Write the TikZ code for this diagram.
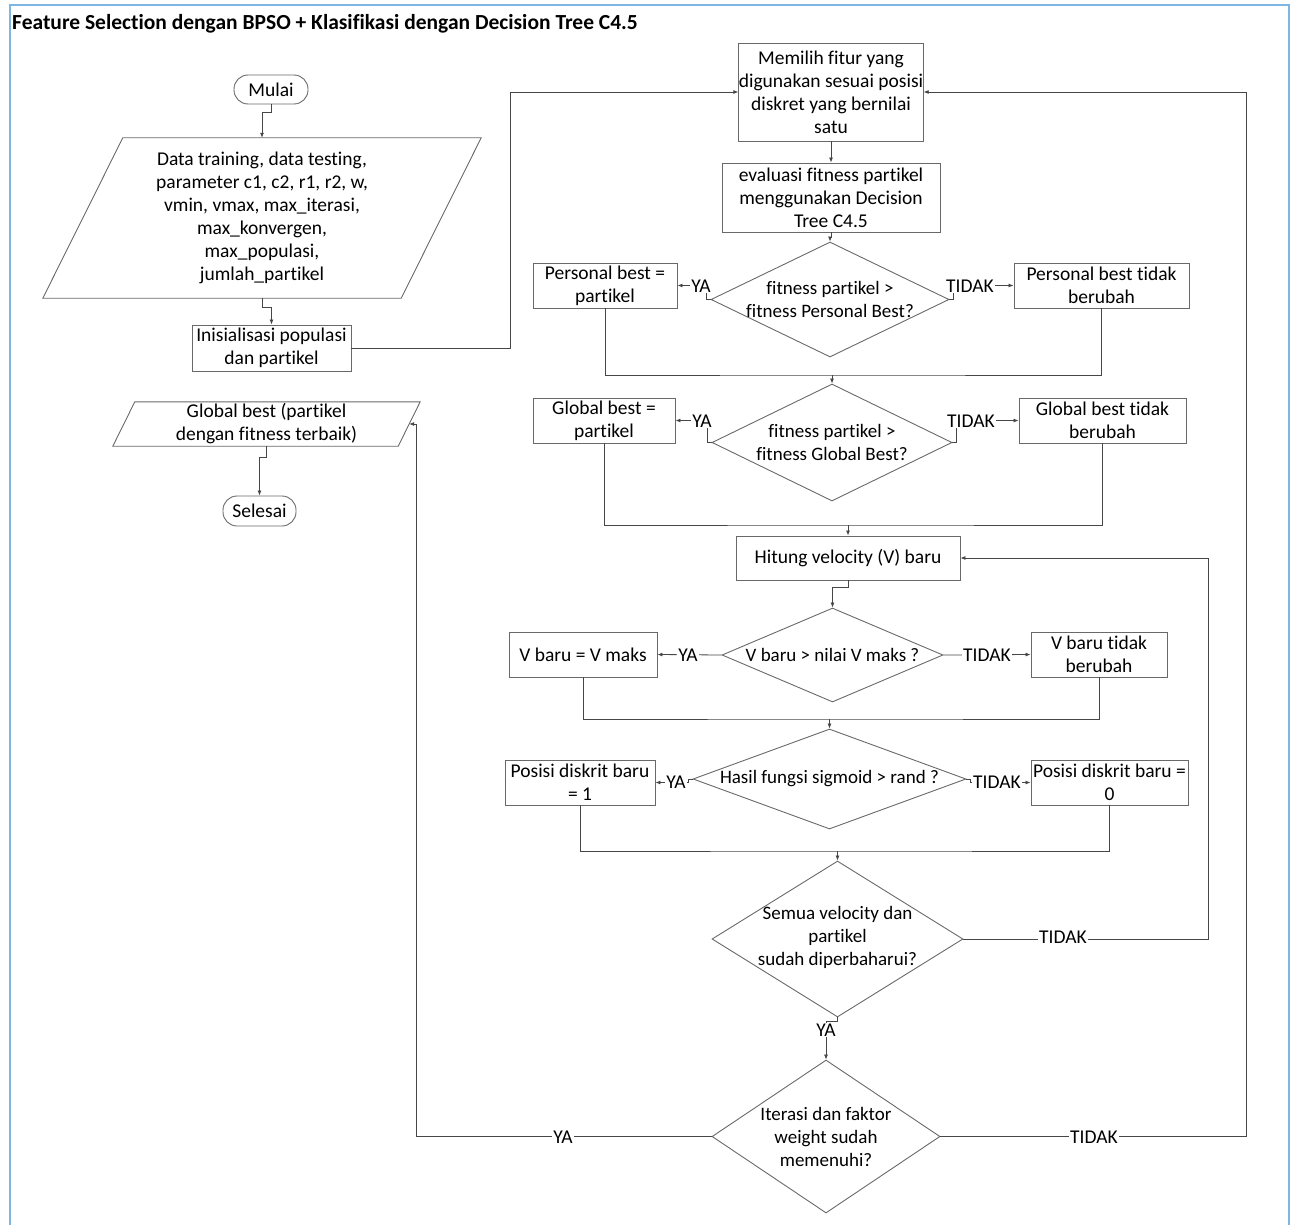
\documentclass[tikz,border=0pt]{standalone}
\usepackage{fontspec}
\setmainfont{Carlito}[Ligatures={NoCommon}]
\usetikzlibrary{arrows.meta,shapes.geometric,calc}
\definecolor{linec}{RGB}{70,70,70}
\definecolor{boxc}{RGB}{105,105,105}
\definecolor{framec}{RGB}{125,182,226}
\newcommand\bodyfont{\fontsize{19.5}{23}\selectfont}
\newcommand\diafont{\fontsize{19}{23}\selectfont}
\begin{document}
\begin{tikzpicture}[x=1pt,y=-1pt,
 every node/.style={font=\bodyfont},
 procbox/.style={draw=boxc, line width=0.9pt, fill=white, align=center, inner sep=0pt},
 term/.style={procbox, rounded corners=14pt},
 decis/.style={draw=boxc, line width=0.9pt, shape=diamond, inner sep=0pt},
 txt/.style={align=center, inner sep=0pt},
 dtxt/.style={txt, font=\diafont},
 lbl/.style={fill=white, inner sep=1pt},
 wire/.style={draw=linec, line width=0.8pt},
 conn/.style={wire, -{Latex[length=5pt,width=4pt]}},
 shapeline/.style={draw=boxc, line width=0.9pt},
]
\useasboundingbox (0,0) rectangle (1295,1225);
\draw[framec, line width=2pt] (10,1225) -- (10,5) -- (1289,5) -- (1289,1225);
\node[anchor=west, inner sep=0pt, font=\fontsize{21.5}{24}\selectfont\bfseries] (title) at (12,24) {Feature Selection dengan BPSO + Klasifikasi dengan Decision Tree C4.5};

% left column
\node[term, minimum width=74, minimum height=29] (mulai) at (271,89.5) {Mulai};
\node[txt, minimum width=438, minimum height=160] (data) at (262,218) {Data training, data testing,\\parameter c1, c2, r1, r2, w,\\vmin, vmax, max\_iterasi,\\max\_konvergen,\\max\_populasi,\\jumlah\_partikel};
\draw[shapeline] (data.south west) -- ($(data.north west)+(80,0)$) -- (data.north east) -- ($(data.south east)+(-80,0)$) -- cycle;
\node[procbox, minimum width=159, minimum height=46] (init) at (271.5,348) {Inisialisasi populasi\\dan partikel};
\node[txt, minimum width=307, minimum height=44] (gb) at (266.5,424) {Global best (partikel\\dengan fitness terbaik)};
\draw[shapeline] (gb.south west) -- ($(gb.north west)+(22,0)$) -- (gb.north east) -- ($(gb.south east)+(-22,0)$) -- cycle;
\node[term, minimum width=73, minimum height=30] (selesai) at (259.5,511) {Selesai};

% right column
\node[procbox, minimum width=184, minimum height=98] (memilih) at (831,92) {Memilih fitur yang\\digunakan sesuai posisi\\diskret yang bernilai\\satu};
\node[procbox, minimum width=218, minimum height=69] (eval) at (831,197.5) {evaluasi fitness partikel\\menggunakan Decision\\Tree C4.5};

\node[decis, minimum width=238, minimum height=115] (d1) at (830,299.5) {};
\node[dtxt] (d1t) at (d1) {fitness partikel >\\fitness Personal Best?};
\node[procbox, minimum width=144, minimum height=45] (pb) at (605,285.5) {Personal best =\\partikel};
\node[procbox, minimum width=175, minimum height=45] (pnb) at (1101.5,285.5) {Personal best tidak\\berubah};

\node[decis, minimum width=240, minimum height=117] (d2) at (832,442.5) {};
\node[dtxt] (d2t) at (d2) {fitness partikel >\\fitness Global Best?};
\node[procbox, minimum width=142, minimum height=45] (gbp) at (604,420.5) {Global best =\\partikel};
\node[procbox, minimum width=167, minimum height=45] (gbn) at (1102.5,420.5) {Global best tidak\\berubah};

\node[procbox, minimum width=224, minimum height=44] (hitung) at (848,558) {Hitung velocity (V) baru};

\node[decis, minimum width=221, minimum height=94] (d3) at (832.5,655) {};
\node[dtxt] (d3t) at (d3) {V baru > nilai V maks ?};
\node[procbox, minimum width=148, minimum height=45] (vm) at (583,654.5) {V baru = V maks};
\node[procbox, minimum width=136, minimum height=45] (vnb) at (1099,654.5) {V baru tidak\\berubah};

\node[decis, minimum width=273, minimum height=100] (d4) at (829.5,779) {};
\node[dtxt] (d4t) at (d4) {Hasil fungsi sigmoid > rand ?};
\node[procbox, minimum width=150, minimum height=45] (p1) at (580,782.5) {Posisi diskrit baru\\= 1};
\node[procbox, minimum width=157, minimum height=45] (p0) at (1109.5,782.5) {Posisi diskrit baru =\\0};

\node[decis, minimum width=251, minimum height=156] (d5) at (837.5,939) {};
\node[dtxt] (d5t) at (837.5,937) {Semua velocity dan\\partikel\\sudah diperbaharui?};

\node[decis, minimum width=228, minimum height=153] (d6) at (826,1136.5) {};
\node[dtxt] (d6t) at (d6) {Iterasi dan faktor\\weight sudah\\memenuhi?};

% merge points
\coordinate (m1) at (832,375);
\coordinate (m2) at (848,525);
\coordinate (m3) at (829.5,719);
\coordinate (m4) at (837.5,851);

% connectors, left column
\draw[conn] (mulai.south) -- ++(0,8) -| (data.north);
\draw[conn] (data.south) -- ++(0,9) -| (init.north);
\draw[conn] (gb.south) -- ++(0,11) -| (selesai.north);
\draw[conn] (init.east) -- ++(159,0) |- (memilih.west);

% right column
\draw[conn] (memilih.south) -- (eval.north);
\draw[conn] (eval.south) -- ++(0,5) -| (d1.north);
\draw[conn] (d1.west) -- ++(-4,0) |- (pb.east);
\draw[conn] (d1.east) -- ++(4,0) |- (pnb.west);
\draw[wire] (pb.south) |- (m1) -| (pnb.south);
\draw[conn] (m1) -- (d2.north);

\draw[conn] (d2.west) -- ++(-4,0) |- (gbp.east);
\draw[conn] (d2.east) -- ++(4,0) |- (gbn.west);
\draw[wire] (gbp.south) |- (m2) -| (gbn.south);
\draw[conn] (m2) -- (hitung.north);

\draw[conn] (hitung.south) -- ++(0,7) -| (d3.north);
\draw[conn] (d3.west) -- (vm.east);
\draw[conn] (d3.east) -- (vnb.west);
\draw[wire] (vm.south) |- (m3) -| (vnb.south);
\draw[conn] (m3) -- (d4.north);

\draw[conn] (d4.west) -- ++(-4,0) |- (p1.east);
\draw[conn] (d4.east) -- ++(4,0) |- (p0.west);
\draw[wire] (p1.south) |- (m4) -| (p0.south);
\draw[conn] (m4) -- (d5.north);

\draw[conn] (d5.east) -- ++(245,0) |- (hitung.east);
\draw[conn] (d5.south) -- ++(0,4) -| (d6.north);
\draw[conn] (d6.west) -- ++(-295,0) |- ($(gb.east)+(-11,0)$);
\draw[conn] (d6.east) -- ++(306,0) |- (memilih.east);

% labels
\node[lbl] (ya1) at (701,286) {YA};
\node[lbl] (ti1) at (970,286) {TIDAK};
\node[lbl] (ya2) at (702,421) {YA};
\node[lbl] (ti2) at (971,421) {TIDAK};
\node[lbl] (ya3) at (688,655) {YA};
\node[lbl] (ti3) at (987,655) {TIDAK};
\node[lbl] (ya4) at (676,782) {YA};
\node[lbl] (ti4) at (997,782) {TIDAK};
\node[lbl] (ti5) at (1063,937) {TIDAK};
\node[lbl] (ya5) at (826,1030) {YA};
\node[lbl] (ya6) at (563,1137) {YA};
\node[lbl] (ti6) at (1094,1137) {TIDAK};
\end{tikzpicture}
\end{document}
